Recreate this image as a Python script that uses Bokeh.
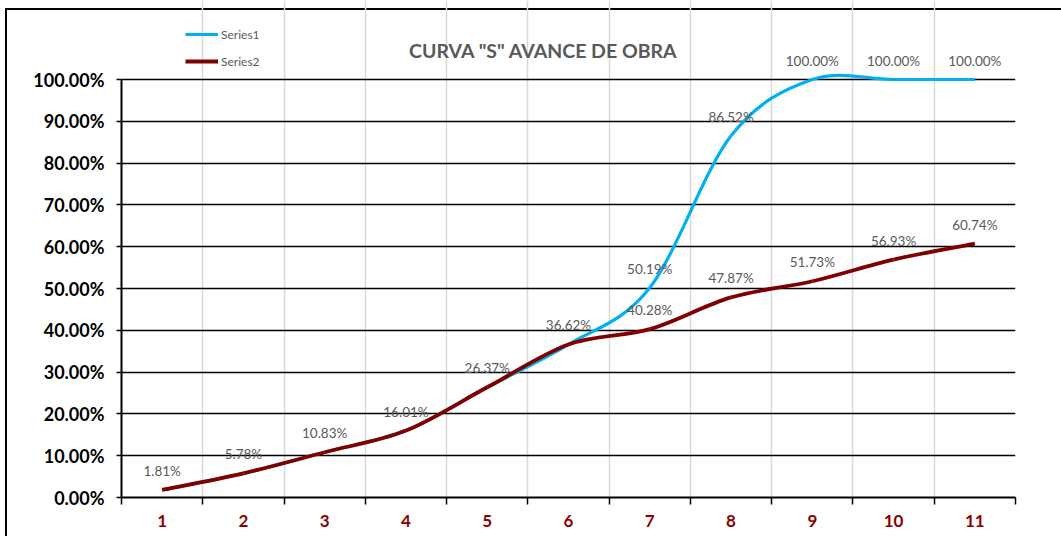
from bokeh.plotting import figure
from bokeh.models import (ColumnDataSource, FixedTicker, NumeralTickFormatter, LabelSet,
                          Label, Legend, LegendItem, Range1d)
from bokeh.core.properties import value
from bokeh.embed import file_html
from bokeh.resources import INLINE

# ---------------- data ----------------
categories = ["1", "2", "3", "4", "5", "6", "7", "8", "9", "10", "11"]
series1 = [0.0181, 0.0578, 0.1083, 0.1601, 0.2637, 0.3662, 0.5019, 0.8652, 1.0, 1.0, 1.0]
series2 = [0.0181, 0.0578, 0.1083, 0.1601, 0.2637, 0.3662, 0.4028, 0.4787, 0.5173, 0.5693, 0.6074]
y_ticks = [0.0, 0.1, 0.2, 0.3, 0.4, 0.5, 0.6, 0.7, 0.8, 0.9, 1.0]
series_names = ["Series1", "Series2"]
title_text = 'CURVA "S" AVANCE DE OBRA'

BLUE = "#00B0F0"
RED = "#7F0000"
GRAY = "#595959"
FONT = "Lato"

xs = list(range(1, len(categories) + 1))

# ---------------- layout (pixels) ----------------
W, H = 1061, 536
LEFT, RIGHT, BOTTOM = 121, 46, 39
AXIS_PX = 418            # pixels between 0% and 100%
TOP_PAD_PX = 79          # room above 100% (title, legend, labels)
y_top = y_ticks[-1] + (y_ticks[-1] - y_ticks[0]) * TOP_PAD_PX / AXIS_PX


def smooth_source(x, y):
    """Excel-like smoothed line: Catmull-Rom segments expressed as cubic Beziers."""
    n = len(x)
    d = dict(x0=[], y0=[], x1=[], y1=[], cx0=[], cy0=[], cx1=[], cy1=[])
    for i in range(n - 1):
        a = i - 1 if i > 0 else i
        b = i + 2 if i + 2 < n else i + 1
        d["x0"].append(x[i]); d["y0"].append(y[i])
        d["x1"].append(x[i + 1]); d["y1"].append(y[i + 1])
        d["cx0"].append(x[i] + (x[i + 1] - x[a]) / 6.0)
        d["cy0"].append(y[i] + (y[i + 1] - y[a]) / 6.0)
        d["cx1"].append(x[i + 1] - (x[b] - x[i]) / 6.0)
        d["cy1"].append(y[i + 1] - (y[b] - y[i]) / 6.0)
    return ColumnDataSource(d)


p = figure(width=W, height=H, output_backend="svg", toolbar_location=None,
           x_range=Range1d(0.5, len(categories) + 0.5), y_range=Range1d(y_ticks[0], y_top),
           min_border_left=LEFT, min_border_right=RIGHT, min_border_top=0,
           min_border_bottom=BOTTOM,
           background_fill_color=None, border_fill_color=None)
p.outline_line_color = None
# outer chart frame: thin black edge on top and left, inset a few pixels
p.styles = {"background-color": "white",
            "box-shadow": "inset 5px 8px 0 0 white, inset 7px 10px 0 0 black"}

# grids
bounds = [i + 0.5 for i in range(0, len(categories) + 1)]
p.xgrid.ticker = FixedTicker(ticks=bounds)
p.xgrid.bounds = (y_ticks[0], y_ticks[-1])
p.xgrid.grid_line_color = "#D9D9D9"
p.xgrid.grid_line_width = 1.5
p.ygrid.ticker = FixedTicker(ticks=y_ticks)
p.ygrid.grid_line_color = "black"
p.ygrid.grid_line_width = 1.6

# x axis
p.xaxis.ticker = FixedTicker(ticks=xs, minor_ticks=bounds)
p.xaxis.major_label_overrides = {x: c for x, c in zip(xs, categories)}
p.xaxis.major_tick_line_color = None
p.xaxis.major_tick_out = 0
p.xaxis.major_tick_in = 0
p.xaxis.minor_tick_line_color = "black"
p.xaxis.minor_tick_line_width = 1.5
p.xaxis.minor_tick_out = 7
p.xaxis.minor_tick_in = 0
p.xaxis.axis_line_color = "black"
p.xaxis.axis_line_width = 2
p.xaxis.major_label_standoff = 10
p.xaxis.major_label_text_font = FONT
p.xaxis.major_label_text_font_style = "bold"
p.xaxis.major_label_text_font_size = "17px"
p.xaxis.major_label_text_color = "#8B0000"

# y axis
p.yaxis.ticker = FixedTicker(ticks=y_ticks)
p.yaxis.bounds = (y_ticks[0], y_ticks[-1])
p.yaxis.formatter = NumeralTickFormatter(format="0.00%")
p.yaxis.minor_tick_line_color = None
p.yaxis.major_tick_line_color = "black"
p.yaxis.major_tick_line_width = 1.5
p.yaxis.major_tick_out = 5
p.yaxis.major_tick_in = 0
p.yaxis.axis_line_color = "black"
p.yaxis.axis_line_width = 2
p.yaxis.major_label_standoff = 12
p.yaxis.major_label_text_font = FONT
p.yaxis.major_label_text_font_style = "bold"
p.yaxis.major_label_text_font_size = "18px"
p.yaxis.major_label_text_color = "black"

# lines
s1 = smooth_source(xs, series1)
s2 = smooth_source(xs, series2)
r1 = p.bezier(x0="x0", y0="y0", x1="x1", y1="y1", cx0="cx0", cy0="cy0", cx1="cx1", cy1="cy1",
              source=s1, line_color=BLUE, line_width=3.2)
r2 = p.bezier(x0="x0", y0="y0", x1="x1", y1="y1", cx0="cx0", cy0="cy0", cx1="cx1", cy1="cy1",
              source=s2, line_color=RED, line_width=3.8)

# data labels
lab_x, lab_y, lab_t = [], [], []
for x, a, b in zip(xs, series1, series2):
    lab_x.append(x); lab_y.append(b); lab_t.append(f"{b * 100:.2f}%")
    if a != b:
        lab_x.append(x); lab_y.append(a); lab_t.append(f"{a * 100:.2f}%")
lsrc = ColumnDataSource(dict(x=lab_x, y=lab_y, t=lab_t))
p.add_layout(LabelSet(x="x", y="y", text="t", source=lsrc, y_offset=19,
                      text_align="center", text_baseline="middle",
                      text_font=value(FONT), text_font_size="13.5px", text_color=GRAY))

# title
p.add_layout(Label(x=422, y=447, x_units="screen", y_units="screen", text=title_text,
                   text_align="center", text_baseline="middle", text_font=FONT,
                   text_font_style="bold", text_font_size="19.5px", text_color=GRAY))

# legend
legend = Legend(items=[LegendItem(label=series_names[0], renderers=[r1]),
                       LegendItem(label=series_names[1], renderers=[r2])],
                location=(64, 426), orientation="vertical", border_line_color=None,
                background_fill_alpha=0, padding=0, margin=0, spacing=7,
                glyph_width=33, glyph_height=20, label_height=20, label_standoff=3,
                label_text_font=FONT, label_text_font_size="12px", label_text_color=GRAY)
p.add_layout(legend)

open("out.html", "w").write(file_html(p, INLINE))
